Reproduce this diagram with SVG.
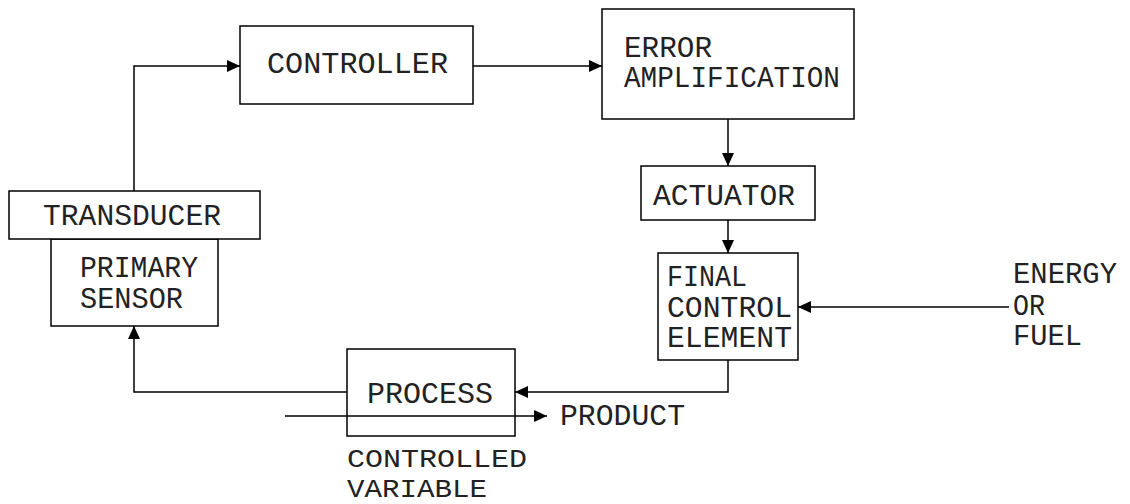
<svg xmlns="http://www.w3.org/2000/svg" width="1130" height="504" viewBox="0 0 1130 504">
<style>
.box{fill:#fff;stroke:#000;stroke-width:1.5}
.ln{fill:none;stroke:#000;stroke-width:1.5}
.t{font-family:"Liberation Mono","DejaVu Sans Mono",monospace;font-size:29px;fill:#222}
.s{font-size:26px}
</style>
<defs>
<marker id="ah" viewBox="0 0 13 12" refX="13" refY="6" markerWidth="13" markerHeight="12" markerUnits="userSpaceOnUse" orient="auto">
<path d="M0,0 L13,6 L0,12 Z" fill="#000"/>
</marker>
</defs>
<rect width="1130" height="504" fill="#fff"/>
<g id="connectors">
<path class="ln" d="M134,191 V66 H240" marker-end="url(#ah)"/>
<path class="ln" d="M473,66 H602" marker-end="url(#ah)"/>
<path class="ln" d="M728,119 V166" marker-end="url(#ah)"/>
<path class="ln" d="M728,220 V253" marker-end="url(#ah)"/>
<path class="ln" d="M1009,307 H798" marker-end="url(#ah)"/>
<path class="ln" d="M728,360 V392 H515" marker-end="url(#ah)"/>
<path class="ln" d="M347,392 H134 V326" marker-end="url(#ah)"/>
<path class="ln" d="M285,416 H547" marker-end="url(#ah)"/>
</g>
<g id="controller">
<rect class="box" x="240" y="26" width="233" height="78"/>
<text class="t" x="267" y="73" textLength="181" lengthAdjust="spacingAndGlyphs">CONTROLLER</text>
</g>
<g id="error-amplification">
<rect class="box" x="602" y="9" width="252" height="110"/>
<text class="t" x="624" y="57" textLength="88" lengthAdjust="spacingAndGlyphs">ERROR</text>
<text class="t" x="624" y="87" textLength="216" lengthAdjust="spacingAndGlyphs">AMPLIFICATION</text>
</g>
<g id="actuator">
<rect class="box" x="641" y="166" width="174" height="54"/>
<text class="t" x="653" y="205" textLength="142" lengthAdjust="spacingAndGlyphs">ACTUATOR</text>
</g>
<g id="final-control-element">
<rect class="box" x="658" y="253" width="140" height="107"/>
<text class="t" x="667" y="286" textLength="80" lengthAdjust="spacingAndGlyphs">FINAL</text>
<text class="t" x="667" y="317" textLength="125" lengthAdjust="spacingAndGlyphs">CONTROL</text>
<text class="t" x="667" y="347" textLength="125" lengthAdjust="spacingAndGlyphs">ELEMENT</text>
</g>
<g id="energy">
<text class="t" x="1013" y="283" textLength="104" lengthAdjust="spacingAndGlyphs">ENERGY</text>
<text class="t" x="1013" y="315" textLength="32" lengthAdjust="spacingAndGlyphs">OR</text>
<text class="t" x="1013" y="345" textLength="69" lengthAdjust="spacingAndGlyphs">FUEL</text>
</g>
<g id="process">
<rect class="box" x="347" y="349" width="168" height="87" style="fill:none"/>
<text class="t" x="367" y="403" textLength="126" lengthAdjust="spacingAndGlyphs">PROCESS</text>
</g>
<g id="product">
<text class="t" x="560" y="425" textLength="125" lengthAdjust="spacingAndGlyphs">PRODUCT</text>
</g>
<g id="controlled-variable">
<text class="t s" x="347" y="467" textLength="180" lengthAdjust="spacingAndGlyphs">CONTROLLED</text>
<text class="t s" x="347" y="497" textLength="140" lengthAdjust="spacingAndGlyphs">VARIABLE</text>
</g>
<g id="primary-sensor">
<rect class="box" x="51" y="239" width="167" height="87"/>
<text class="t" x="80" y="277" textLength="118" lengthAdjust="spacingAndGlyphs">PRIMARY</text>
<text class="t" x="80" y="308" textLength="103" lengthAdjust="spacingAndGlyphs">SENSOR</text>
</g>
<g id="transducer">
<rect class="box" x="9" y="191" width="251" height="48"/>
<text class="t" x="43" y="225" textLength="178" lengthAdjust="spacingAndGlyphs">TRANSDUCER</text>
</g>
</svg>
